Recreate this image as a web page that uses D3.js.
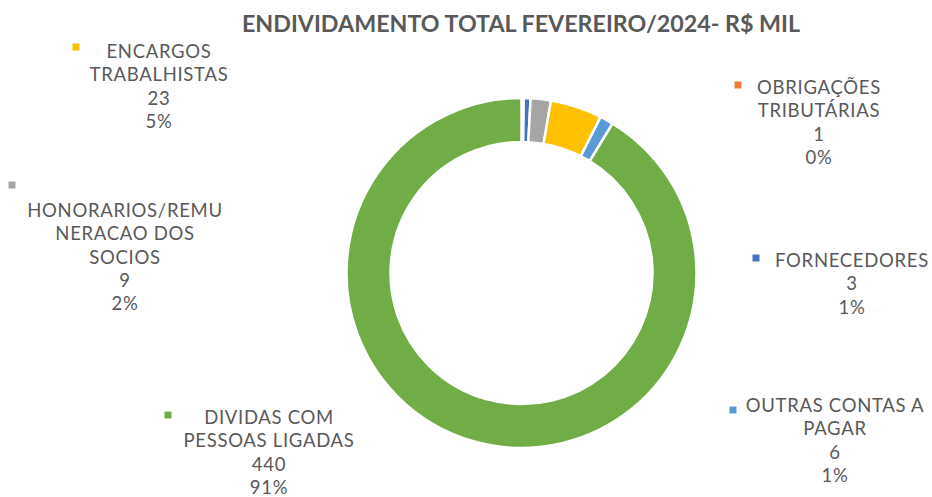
<!DOCTYPE html>
<html>
<head>
<meta charset="utf-8">
<script src="https://cdn.jsdelivr.net/npm/d3@7"></script>
<style>
  html, body { margin: 0; padding: 0; background: #ffffff; }
  svg { display: block; }
</style>
</head>
<body>
<svg id="chart" width="932" height="497"></svg>
<script>
// ---- data ----
const title = "ENDIVIDAMENTO TOTAL FEVEREIRO/2024- R$ MIL";
const categories = [
  "OBRIGAÇÕES TRIBUTÁRIAS",
  "FORNECEDORES",
  "HONORARIOS/REMUNERACAO DOS SOCIOS",
  "ENCARGOS TRABALHISTAS",
  "OUTRAS CONTAS A PAGAR",
  "DIVIDAS COM PESSOAS LIGADAS"
];
const values = [1, 3, 9, 23, 6, 440];
const labelLines = [
  ["OBRIGAÇÕES", "TRIBUTÁRIAS"],
  ["FORNECEDORES"],
  ["HONORARIOS/REMU", "NERACAO DOS", "SOCIOS"],
  ["ENCARGOS", "TRABALHISTAS"],
  ["OUTRAS CONTAS A", "PAGAR"],
  ["DIVIDAS COM", "PESSOAS LIGADAS"]
];
const colors = ["#ED7D31", "#4472C4", "#A5A5A5", "#FFC000", "#5B9BD5", "#70AD47"];

// ---- layout (label placement, not data) ----
const labelLayout = [
  { cx: 819, y0: 94,  mx: 738, my: 85 },
  { cx: 852, y0: 267, mx: 756, my: 258 },
  { cx: 125, y0: 217, mx: 12,  my: 185 },
  { cx: 159, y0: 58,  mx: 76,  my: 47 },
  { cx: 835, y0: 412, mx: 733, my: 410 },
  { cx: 269, y0: 424, mx: 168, my: 415 }
];
const lineH = 23.3;

const svg = d3.select("#chart");
const cx = 521.5, cy = 273, rOuter = 175, rInner = 131;

// title
svg.append("text")
  .attr("x", 521).attr("y", 32)
  .attr("text-anchor", "middle")
  .attr("font-family", "Lato, 'Open Sans', sans-serif")
  .attr("font-weight", 700)
  .attr("font-size", 23)
  .attr("fill", "#595959")
  .attr("textLength", 558)
  .attr("lengthAdjust", "spacingAndGlyphs")
  .text(title);

const data = categories.map((c, i) => ({ name: c, value: values[i], color: colors[i], lines: labelLines[i], layout: labelLayout[i] }));
const total = d3.sum(values);
const pct = d3.format(".0%");

const pie = d3.pie().sort(null).value(d => d.value).startAngle(0).endAngle(2 * Math.PI);
const arc = d3.arc().innerRadius(rInner).outerRadius(rOuter);

const g = svg.append("g").attr("transform", `translate(${cx},${cy})`);
g.selectAll("path")
  .data(pie(data))
  .join("path")
  .attr("d", arc)
  .attr("fill", d => d.data.color)
  .attr("stroke", "#ffffff")
  .attr("stroke-width", 2.5);

// labels
const lab = svg.append("g");
data.forEach(d => {
  const L = d.layout;
  lab.append("rect")
    .attr("x", L.mx - 3.5).attr("y", L.my - 3.5)
    .attr("width", 7).attr("height", 7)
    .attr("fill", d.color);
  const lines = d.lines.concat([String(d.value), pct(d.value / total)]);
  lines.forEach((t, i) => {
    lab.append("text")
      .attr("x", L.cx)
      .attr("y", L.y0 + i * lineH)
      .attr("text-anchor", "middle")
      .attr("font-family", "Lato, 'Open Sans', sans-serif")
      .attr("font-size", 18.5)
      .attr("letter-spacing", 0.7)
      .attr("fill", "#595959")
      .text(t);
  });
});
</script>
</body>
</html>
